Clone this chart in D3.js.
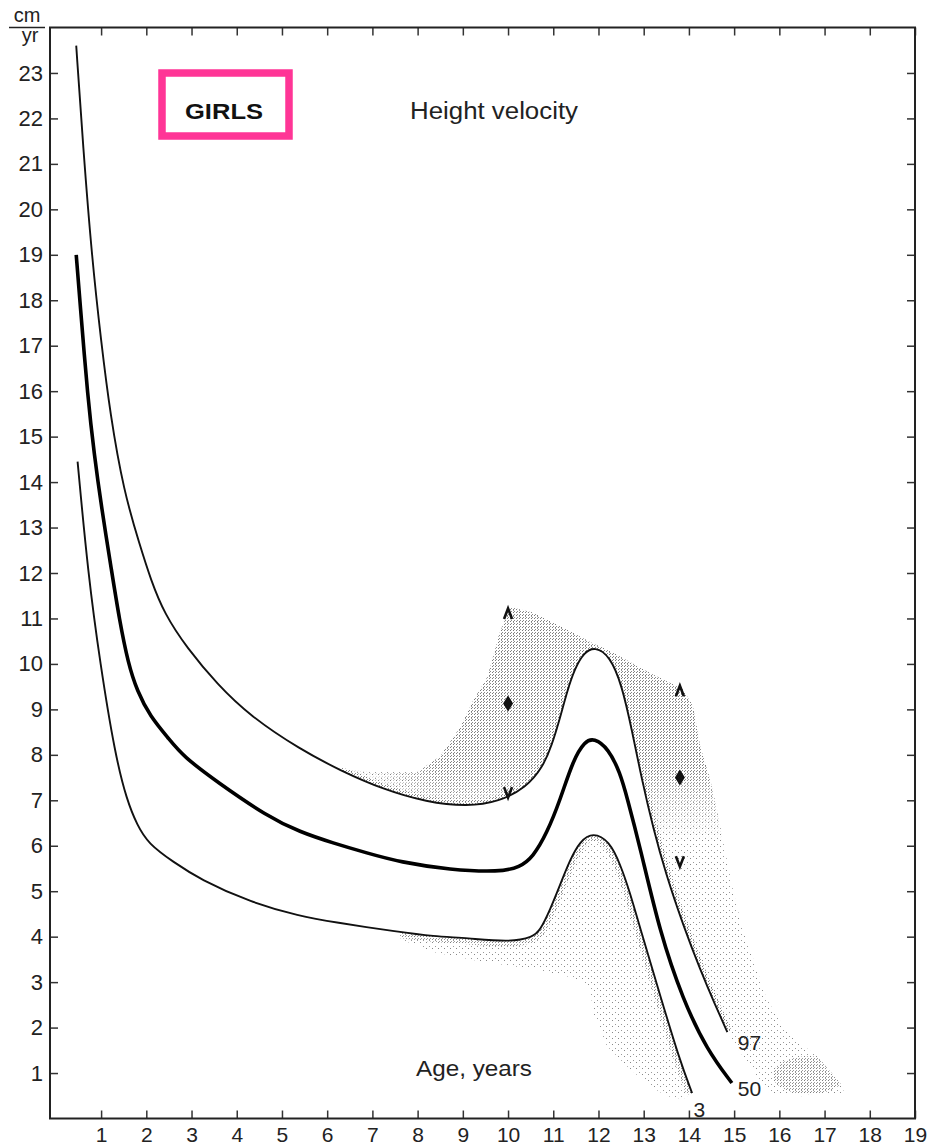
<!DOCTYPE html>
<html>
<head>
<meta charset="utf-8">
<script src="https://cdn.jsdelivr.net/npm/d3@7"></script>
<style>
  body { margin: 0; background: #fff; }
  svg { display: block; font-family: "Liberation Sans", Arial, sans-serif; }
</style>
</head>
<body>
<div id="chart"></div>
<script>
// tick labels
const xTicks = [1, 2, 3, 4, 5, 6, 7, 8, 9, 10, 11, 12, 13, 14, 15, 16, 17, 18, 19];
const yTicks = [1, 2, 3, 4, 5, 6, 7, 8, 9, 10, 11, 12, 13, 14, 15, 16, 17, 18, 19, 20, 21, 22, 23];

// centile curves, [age (years), velocity (cm/yr)]
const p97 = [[0.45,23.6],[0.6,21.4],[0.8,18.9],[1.0,17.1],[1.2,15.5],[1.5,13.8],[1.86,12.6],[2.1,11.85],[2.4,11.1],
  [2.9,10.35],[3.57,9.55],[4.3,8.85],[5.4,8.12],[6.3,7.65],[7.24,7.24],[8.2,6.96],[9.1,6.86],[9.8,6.97],[10.4,7.28],
  [10.77,7.73],[10.97,8.22],[11.15,8.81],[11.3,9.38],[11.48,9.91],[11.68,10.25],[11.92,10.38],[12.25,10.18],
  [12.52,9.53],[12.74,8.54],[12.96,7.45],[13.21,6.39],[13.49,5.38],[13.87,4.26],[14.25,3.27],[14.58,2.5],[14.85,1.9]];
const p50 = [[0.45,19.0],[0.53,18.0],[0.71,15.8],[0.85,14.6],[1.0,13.5],[1.24,12.0],[1.4,11.0],[1.6,10.0],[1.8,9.4],
  [2.08,8.85],[2.5,8.35],[2.81,7.97],[3.57,7.4],[4.67,6.65],[5.4,6.3],[6.13,6.06],[6.88,5.84],[7.61,5.64],[8.72,5.47],
  [9.82,5.42],[10.26,5.53],[10.55,5.75],[10.86,6.28],[11.15,7.0],[11.44,7.89],[11.7,8.3],[11.9,8.37],[12.22,8.14],
  [12.48,7.6],[12.63,7.07],[12.92,5.97],[13.36,4.08],[13.87,2.61],[14.4,1.51],[14.95,0.78]];
const p3 = [[0.48,14.45],[0.71,12.0],[0.98,10.0],[1.31,8.0],[1.57,7.0],[1.8,6.45],[2.04,6.05],[2.6,5.64],[3.19,5.26],
  [4.29,4.76],[5.4,4.45],[6.13,4.32],[7.61,4.1],[8.34,4.01],[9.09,3.97],[10.04,3.88],[10.55,3.99],[10.71,4.14],
  [10.93,4.59],[11.15,5.14],[11.37,5.69],[11.59,6.1],[11.88,6.3],[12.24,6.1],[12.48,5.6],[12.7,4.96],[12.92,4.19],
  [13.36,2.72],[13.8,1.27],[14.07,0.56]];

// stippled areas: outer edges of early / late maturers
const upperEnv = [[6.2,7.72],[6.95,7.62],[7.99,7.62],[8.5,7.97],[8.94,8.6],[9.23,9.2],[9.54,9.7],[9.82,10.7],[10.05,11.25],
  [10.55,11.13],[11.3,10.76],[11.88,10.45],[12.32,10.25],[13.14,9.8],[13.87,9.44],[14.09,9.07],[14.25,8.19],[14.47,7.46],
  [14.62,6.8],[14.75,6.14],[14.97,5.05],[15.2,4.1],[15.35,3.73],[15.72,2.63],[16.17,1.9],[16.83,1.37],[17.34,0.8],
  [17.45,0.54],[16.46,0.49],[15.8,0.54],[15.24,1.3],[14.85,1.9]];
const lowerEnv = [[13.87,0.43],[13.52,0.49],[13.14,0.71],[12.63,1.15],[12.19,1.59],[11.88,2.34],[11.81,2.91],[11.3,3.13],
  [10.55,3.29],[9.45,3.44],[8.34,3.66],[7.61,3.95]];

// peak markers (top, middle, bottom) for early and late maturers
const markAges = [10.0, 13.8];
const markTop = [11.1, 9.4];
const markMid = [9.13, 7.5];
const markLow = [7.18, 5.66];

// centile labels
const centNames = ["97", "50", "3"];
const centAge = [15.08, 15.08, 14.1];
const centVel = [1.68, 0.67, 0.19];

const W = 927, H = 1147;
const x = d3.scaleLinear().domain([-0.13, 19]).range([50, 915]);
const y = d3.scaleLinear().domain([0, 24]).range([1118.5, 27.5]);

const svg = d3.select("#chart").append("svg")
  .attr("width", W)
  .attr("height", H);

const defs = svg.append("defs");
const dense = defs.append("pattern").attr("id", "dense")
  .attr("patternUnits", "userSpaceOnUse").attr("width", 3).attr("height", 3);
dense.append("rect").attr("x", 0).attr("y", 0).attr("width", 1).attr("height", 1).attr("fill", "#7a7a7a");
dense.append("rect").attr("x", 1).attr("y", 2).attr("width", 1).attr("height", 1).attr("fill", "#8a8a8a");
const sparse = defs.append("pattern").attr("id", "sparse")
  .attr("patternUnits", "userSpaceOnUse").attr("width", 6).attr("height", 6);
sparse.append("rect").attr("x", 0).attr("y", 0).attr("width", 1).attr("height", 1).attr("fill", "#888");
sparse.append("rect").attr("x", 3).attr("y", 4).attr("width", 1).attr("height", 1).attr("fill", "#999");

// soft fades for the dense stipple
const fadeV = defs.append("linearGradient").attr("id", "fadeV").attr("gradientUnits", "userSpaceOnUse")
  .attr("x1", 0).attr("x2", 0).attr("y1", y(7.7)).attr("y2", y(6.1));
fadeV.append("stop").attr("offset", 0).attr("stop-color", "#fff");
fadeV.append("stop").attr("offset", 1).attr("stop-color", "#000");
const fadeH = defs.append("linearGradient").attr("id", "fadeH").attr("gradientUnits", "userSpaceOnUse")
  .attr("x1", x(6.9)).attr("x2", x(8.4)).attr("y1", 0).attr("y2", 0);
fadeH.append("stop").attr("offset", 0).attr("stop-color", "#333");
fadeH.append("stop").attr("offset", 1).attr("stop-color", "#fff");
defs.append("mask").attr("id", "maskV").attr("maskUnits", "userSpaceOnUse")
  .attr("x", 0).attr("y", 0).attr("width", W).attr("height", H)
  .append("rect").attr("width", W).attr("height", H).attr("fill", "url(#fadeV)");
defs.append("mask").attr("id", "maskH").attr("maskUnits", "userSpaceOnUse")
  .attr("x", 0).attr("y", 0).attr("width", W).attr("height", H)
  .append("rect").attr("width", W).attr("height", H).attr("fill", "url(#fadeH)");

const lin = d3.line().x(d => x(d[0])).y(d => y(d[1]));
const smooth = d3.line().x(d => x(d[0])).y(d => y(d[1])).curve(d3.curveBasis);

// the 97 part is drawn left to right, so the envelope joins at its right end
const upperPoly = lin(upperEnv.slice().reverse()) + smooth(p97.filter(d => d[0] >= 6.2)).replace(/^M/, "L") + "Z";
const lowerPath = smooth(p3.filter(d => d[0] >= 7.6)) + lin(lowerEnv).replace(/^M/, "L") + "Z";

defs.append("clipPath").attr("id", "clipUpper").append("path").attr("d", upperPoly);
defs.append("clipPath").attr("id", "clipLower").append("path").attr("d", lowerPath);

// stipple
svg.append("path").attr("d", upperPoly).attr("fill", "url(#sparse)");
svg.append("g").attr("clip-path", "url(#clipUpper)")
  .append("g").attr("mask", "url(#maskH)")
  .append("rect")
  .attr("x", x(6)).attr("y", y(12))
  .attr("width", x(15.2) - x(6)).attr("height", y(5.5) - y(12))
  .attr("fill", "url(#dense)")
  .attr("mask", "url(#maskV)");
svg.append("path").attr("d", smooth(p97.filter(d => d[0] >= 6.2)))
  .attr("fill", "none").attr("stroke", "url(#dense)").attr("stroke-width", 9)
  .attr("clip-path", "url(#clipUpper)");
svg.append("ellipse")
  .attr("cx", x(16.65)).attr("cy", y(0.95)).attr("rx", 36).attr("ry", 19)
  .attr("fill", "url(#dense)").attr("opacity", 0.85)
  .attr("clip-path", "url(#clipUpper)");

svg.append("path").attr("d", lowerPath).attr("fill", "url(#sparse)");
svg.append("path").attr("d", smooth(p3.filter(d => d[0] >= 7.6)))
  .attr("fill", "none").attr("stroke", "url(#dense)").attr("stroke-width", 12)
  .attr("opacity", 0.8)
  .attr("clip-path", "url(#clipLower)");

// axes, ticks inward on all four sides
const tickCol = "#333";
const axLeft = svg.append("g").attr("transform", `translate(${x(-0.13)},0)`)
  .call(d3.axisLeft(y).tickValues(yTicks).tickSize(-8).tickPadding(7).tickFormat(d3.format("d")));
const axBottom = svg.append("g").attr("transform", `translate(0,${y(0)})`)
  .call(d3.axisBottom(x).tickValues(xTicks).tickSize(-8).tickPadding(9).tickFormat(d3.format("d")));
const axRight = svg.append("g").attr("transform", `translate(${x(19)},0)`)
  .call(d3.axisRight(y).tickValues(yTicks).tickSize(-8).tickFormat(""));
const axTop = svg.append("g").attr("transform", `translate(0,${y(24)})`)
  .call(d3.axisTop(x).tickValues(xTicks).tickSize(-8).tickFormat(""));

[axLeft, axBottom, axRight, axTop].forEach(a => {
  a.select(".domain").remove();
  a.selectAll(".tick line").attr("stroke", tickCol).attr("stroke-width", 1.5);
  a.selectAll(".tick text").attr("fill", "#222").style("font-family", "'Liberation Sans', Arial, sans-serif");
});
axLeft.selectAll(".tick text").style("font-size", "22px");
axBottom.selectAll(".tick text").style("font-size", "21px");

svg.append("rect")
  .attr("x", x(-0.13)).attr("y", y(24))
  .attr("width", x(19) - x(-0.13)).attr("height", y(0) - y(24))
  .attr("fill", "none").attr("stroke", "#222").attr("stroke-width", 2);

// curves
svg.append("path").attr("d", smooth(p97)).attr("fill", "none").attr("stroke", "#111").attr("stroke-width", 1.9);
svg.append("path").attr("d", smooth(p3)).attr("fill", "none").attr("stroke", "#111").attr("stroke-width", 1.9);
svg.append("path").attr("d", smooth(p50)).attr("fill", "none").attr("stroke", "#000").attr("stroke-width", 3.6);

// peak markers
markAges.forEach((a, i) => {
  svg.append("path")
    .attr("transform", `translate(${x(a)},${y(markTop[i])})`)
    .attr("d", "M-4,5 L0,-5.5 L4,5")
    .attr("fill", "none").attr("stroke", "#111").attr("stroke-width", 2.6);
  svg.append("path")
    .attr("transform", `translate(${x(a)},${y(markMid[i])})`)
    .attr("d", "M0,-8 L5,0 L0,8 L-5,0Z")
    .attr("fill", "#111");
  svg.append("path")
    .attr("transform", `translate(${x(a)},${y(markLow[i])})`)
    .attr("d", "M-4,-5 L0,5.5 L4,-5")
    .attr("fill", "none").attr("stroke", "#111").attr("stroke-width", 2.6);
});

// centile labels
centNames.forEach((n, i) => {
  svg.append("text")
    .attr("x", x(centAge[i])).attr("y", y(centVel[i]))
    .attr("dy", "0.36em")
    .style("font-size", "21px").attr("fill", "#222")
    .text(n);
});

// unit label cm / yr
svg.append("text").attr("x", 27).attr("y", 22).attr("text-anchor", "middle")
  .style("font-size", "20px").attr("fill", "#222").text("cm");
svg.append("line").attr("x1", 9).attr("x2", 45).attr("y1", 27.5).attr("y2", 27.5)
  .attr("stroke", "#222").attr("stroke-width", 1.6);
svg.append("text").attr("x", 30).attr("y", 42).attr("text-anchor", "middle")
  .style("font-size", "20px").attr("fill", "#222").text("yr");

// title box
svg.append("rect")
  .attr("x", 162).attr("y", 73).attr("width", 127).attr("height", 63)
  .attr("fill", "none").attr("stroke", "#ff3596").attr("stroke-width", 7.5);
svg.append("text").attr("x", 185).attr("y", 119)
  .attr("textLength", 78).attr("lengthAdjust", "spacingAndGlyphs")
  .style("font-size", "22px").style("font-weight", "bold").attr("fill", "#111")
  .text("GIRLS");

svg.append("text").attr("x", 410).attr("y", 119)
  .attr("textLength", 168).attr("lengthAdjust", "spacingAndGlyphs")
  .style("font-size", "23px").attr("fill", "#222")
  .text("Height velocity");

svg.append("text").attr("x", 416).attr("y", 1076)
  .attr("textLength", 116).attr("lengthAdjust", "spacingAndGlyphs")
  .style("font-size", "22px").attr("fill", "#222")
  .text("Age, years");
</script>
</body>
</html>
